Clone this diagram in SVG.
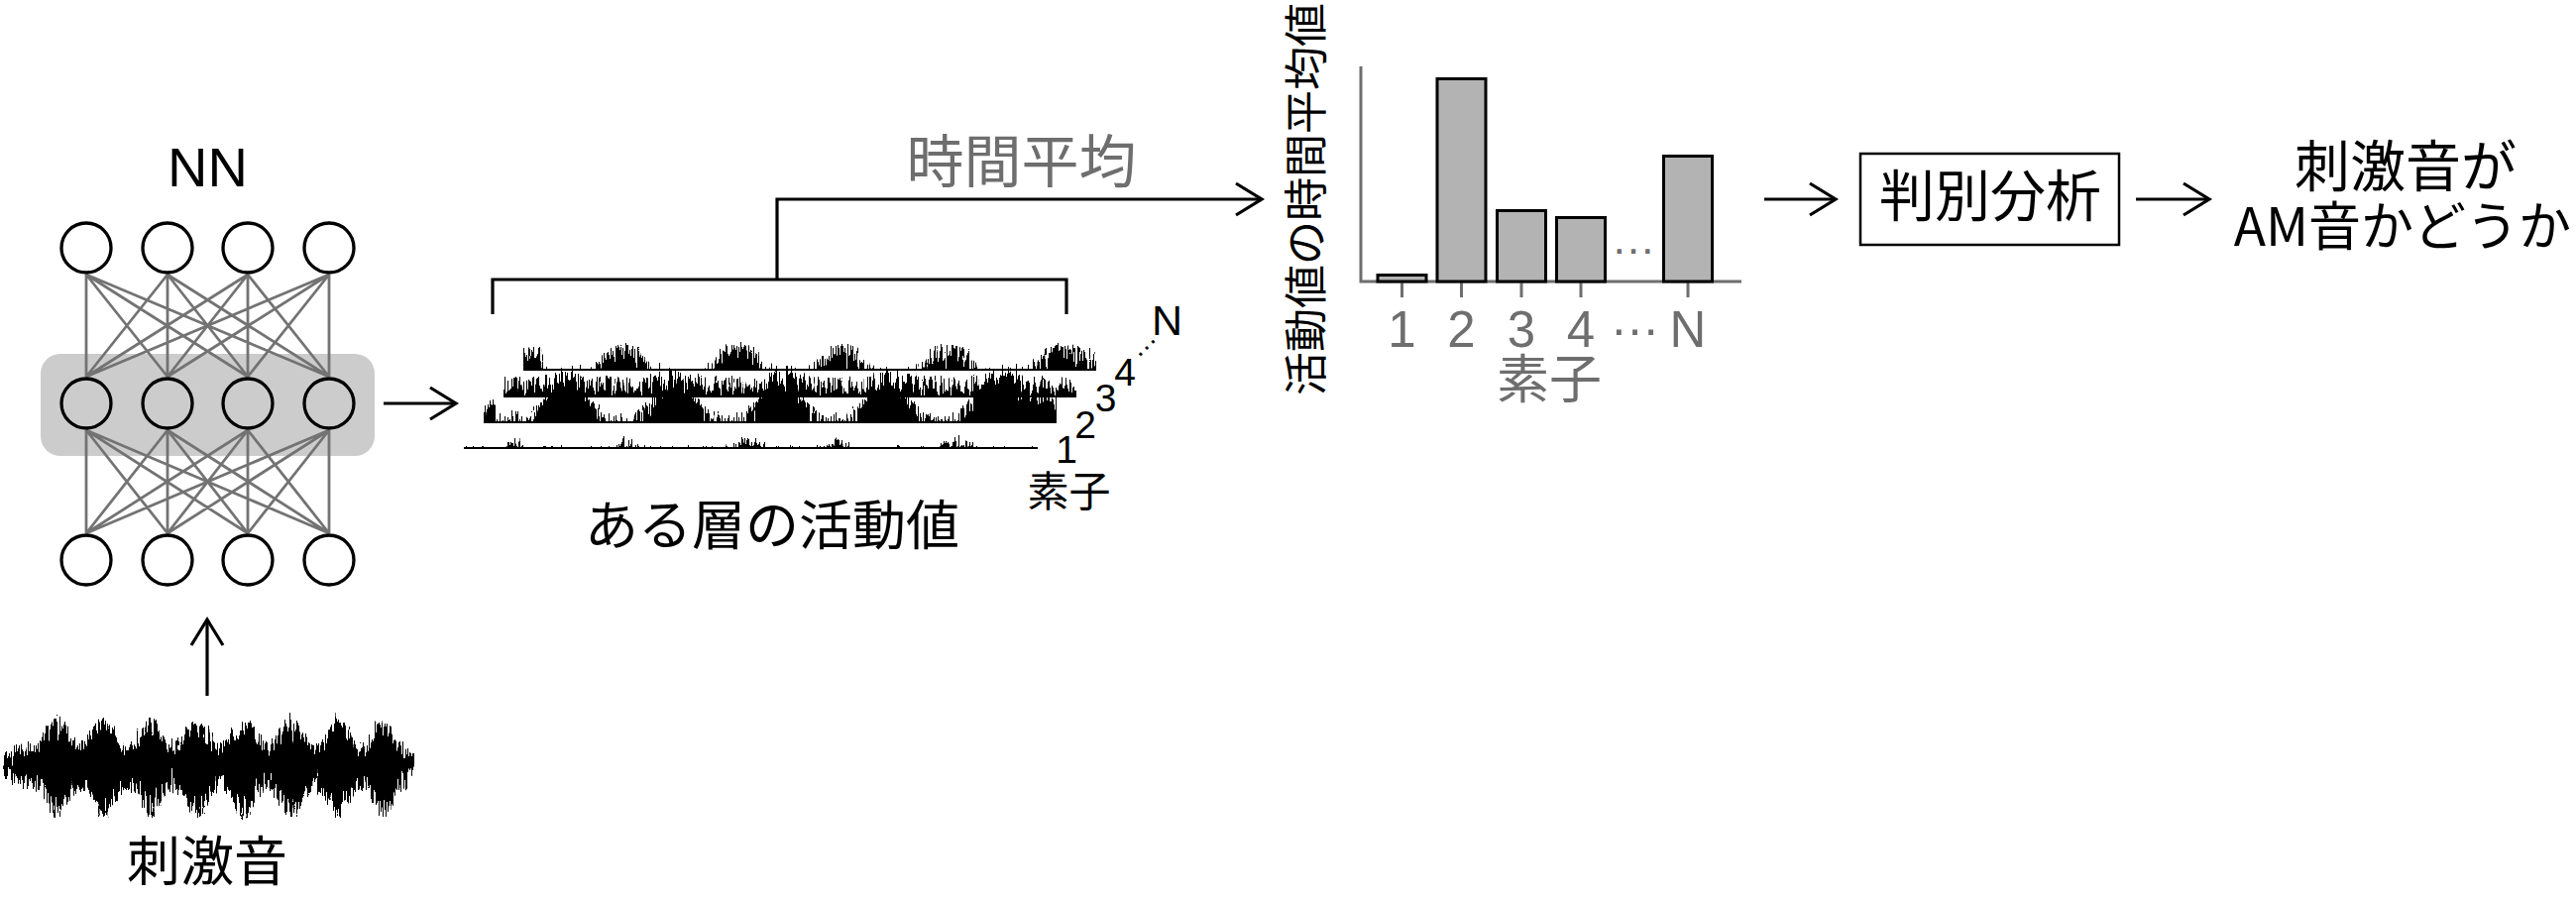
<svg xmlns="http://www.w3.org/2000/svg" width="2599" height="908" viewBox="0 0 2599 908">
<style>
.jp{font-family:'Noto Sans CJK JP','Noto Sans CJK SC',sans-serif}
.la{font-family:'Liberation Sans',Arial,sans-serif}
.k{fill:#000}
.g{fill:#6e6e6e}
.ln{stroke:#000;stroke-width:3.2;fill:none}
.nnl{stroke:#737373;stroke-width:2.8;fill:none}
.nd{stroke:#000;stroke-width:3.3;fill:#fff}
.ndm{stroke:#000;stroke-width:3.3;fill:none}
.bar{fill:#b3b3b3;stroke:#000;stroke-width:3}
.ax{stroke:#6e6e6e;stroke-width:3;fill:none}
.base{stroke:#000;stroke-width:2;fill:none}
</style>
<defs>
<marker id="ah" markerUnits="userSpaceOnUse" viewBox="-30 -20 36 40" refX="0" refY="0" markerWidth="36" markerHeight="40" orient="auto" overflow="visible">
<path d="M-26,-16 L0,0 L-26,16" fill="none" stroke="#000" stroke-width="3.2"/>
</marker>
<filter id="fU" x="-2%" y="-80%" width="104%" height="260%" color-interpolation-filters="sRGB">
<feTurbulence type="turbulence" baseFrequency="0.41 0.017" numOctaves="3" seed="4" result="t"/>
<feColorMatrix in="t" type="matrix" values="0 0 0 0 0.5  0 -1 0 0 0.86  0 0 0 0 0  0 0 0 0 1" result="m"/>
<feDisplacementMap in="SourceGraphic" in2="m" scale="40" xChannelSelector="R" yChannelSelector="G" result="d"/>
<feComponentTransfer in="d"><feFuncA type="linear" slope="2.2" intercept="-0.35"/></feComponentTransfer>
</filter>
<filter id="fD" x="-2%" y="-80%" width="104%" height="260%" color-interpolation-filters="sRGB">
<feTurbulence type="turbulence" baseFrequency="0.41 0.017" numOctaves="3" seed="9" result="t"/>
<feColorMatrix in="t" type="matrix" values="0 0 0 0 0.5  0 1 0 0 0.14  0 0 0 0 0  0 0 0 0 1" result="m"/>
<feDisplacementMap in="SourceGraphic" in2="m" scale="40" xChannelSelector="R" yChannelSelector="G" result="d"/>
<feComponentTransfer in="d"><feFuncA type="linear" slope="2.2" intercept="-0.35"/></feComponentTransfer>
</filter>
<filter id="fU1" x="-2%" y="-120%" width="104%" height="340%" color-interpolation-filters="sRGB">
<feTurbulence type="turbulence" baseFrequency="0.43 0.021" numOctaves="3" seed="2" result="t"/>
<feColorMatrix in="t" type="matrix" values="0 0 0 0 0.5  0 -1 0 0 0.86  0 0 0 0 0  0 0 0 0 1" result="m"/>
<feDisplacementMap in="SourceGraphic" in2="m" scale="22" xChannelSelector="R" yChannelSelector="G" result="d"/>
<feComponentTransfer in="d"><feFuncA type="linear" slope="2.2" intercept="-0.35"/></feComponentTransfer>
</filter>
<clipPath id="cTop"><rect x="0" y="680" width="430" height="93.5"/></clipPath>
<clipPath id="cBot"><rect x="0" y="772.5" width="430" height="100"/></clipPath>
<clipPath id="c4"><rect x="520" y="320" width="600" height="53"/></clipPath>
<clipPath id="c3"><rect x="500" y="340" width="600" height="60"/></clipPath>
<clipPath id="c2"><rect x="480" y="340" width="600" height="86"/></clipPath>
<clipPath id="c1"><rect x="460" y="400" width="600" height="52"/></clipPath>
</defs>

<g id="nn-network">
<rect id="layer-highlight" x="41" y="357" width="337" height="103" rx="20" fill="#cccccc"/>
<path class="nnl" d="M87,277L87,380M87,277L169,380M87,277L250,380M87,277L332,380M169,277L87,380M169,277L169,380M169,277L250,380M169,277L332,380M250,277L87,380M250,277L169,380M250,277L250,380M250,277L332,380M332,277L87,380M332,277L169,380M332,277L250,380M332,277L332,380"/>
<path class="nnl" d="M87,434L87,538M87,434L169,538M87,434L250,538M87,434L332,538M169,434L87,538M169,434L169,538M169,434L250,538M169,434L332,538M250,434L87,538M250,434L169,538M250,434L250,538M250,434L332,538M332,434L87,538M332,434L169,538M332,434L250,538M332,434L332,538"/>
<circle class="nd" cx="87" cy="250" r="25"/><circle class="nd" cx="169" cy="250" r="25"/><circle class="nd" cx="250" cy="250" r="25"/><circle class="nd" cx="332" cy="250" r="25"/>
<circle class="ndm" cx="87" cy="407" r="25"/><circle class="ndm" cx="169" cy="407" r="25"/><circle class="ndm" cx="250" cy="407" r="25"/><circle class="ndm" cx="332" cy="407" r="25"/>
<circle class="nd" cx="87" cy="565" r="25"/><circle class="nd" cx="169" cy="565" r="25"/><circle class="nd" cx="250" cy="565" r="25"/><circle class="nd" cx="332" cy="565" r="25"/>
<text class="la k" x="209.5" y="188" font-size="56" text-anchor="middle">NN</text>
</g>

<g id="stimulus">
<g clip-path="url(#cTop)"><path filter="url(#fU)" fill="#000" d="M3,773 C7,764 20,758 34.45,758 C42.3,758 50.15,732 58,732 S73.7,758 81.55,758 S97.25,732 105.1,732 S120.8,758 128.65,758 S144.35,732 152.2,732 S167.9,758 175.75,758 S191.45,732 199.3,732 S215,758 222.85,758 S238.55,732 246.4,732 S262.1,758 269.95,758 S285.65,732 293.5,732 S309.2,758 317.05,758 S332.75,732 340.6,732 S356.3,758 364.15,758 S379.85,732 387.7,732 S398,758 406,759 C412,760 415,768 418,773 L418,794 L3,794 Z"/></g>
<g clip-path="url(#cBot)"><path filter="url(#fD)" fill="#000" d="M3,773 C7,782 20,788 34.45,788 C42.3,788 50.15,814 58,814 S73.7,788 81.55,788 S97.25,814 105.1,814 S120.8,788 128.65,788 S144.35,814 152.2,814 S167.9,788 175.75,788 S191.45,814 199.3,814 S215,788 222.85,788 S238.55,814 246.4,814 S262.1,788 269.95,788 S285.65,814 293.5,814 S309.2,788 317.05,788 S332.75,814 340.6,814 S356.3,788 364.15,788 S379.85,814 387.7,814 S398,788 406,787 C412,786 415,778 418,773 L418,752 L3,752 Z"/></g>
<text class="jp k" x="209" y="889" font-size="54" text-anchor="middle">刺激音</text>
</g>

<g id="activity-traces">
<g clip-path="url(#c4)"><path filter="url(#fU)" fill="#000" d="M528,395 L528,360 L545,362 L550,380 L590,380 C606,380 610,357 630,357 C650,357 654,380 670,380 L705,380 C721,380 725,357 745,357 C765,357 769,380 785,380 L810,380 C826,380 830,357 850,357 C870,357 874,380 890,380 L918,380 C934,380 938,357 958,357 C978,357 982,380 998,380 L1030,380 C1046,380 1050,357 1070,357 C1085,357 1095,364 1106,367 L1106,395 Z"/></g>
<line class="base" x1="528" y1="373" x2="1106" y2="373"/>
<g clip-path="url(#c3)"><path filter="url(#fU)" fill="#000" d="M508,420 L508,390 L540,391 C552,382 580,382 592,391 L650,392 C662,382 700,382 712,391 L770,392 C780,382 815,382 825,391 L870,392 C880,382 920,382 930,391 L980,392 C990,382 1030,382 1040,391 L1086,389 L1086,420 Z"/></g>
<line class="base" x1="508" y1="400" x2="1086" y2="400"/>
<g clip-path="url(#c2)"><path filter="url(#fU)" fill="#000" d="M488,446 L488,412 L498,414 L503,427 L530,427 C544,427 558,383 572,382 C586,383 600,427 614,427 L638,427 C652,427 666,383 680,382 C694,383 708,427 722,427 L745,427 C759,427 773,383 787,382 C801,383 815,427 829,427 L853,427 C867,427 881,383 895,382 C909,383 923,427 937,427 L961,427 C975,427 989,383 1003,382 C1017,383 1030,400 1066,410 L1066,446 Z"/></g>
<line class="base" x1="488" y1="426" x2="1066" y2="426"/>
<g clip-path="url(#c1)"><path filter="url(#fU1)" fill="#000" d="M468,470 L468,456 L505,456 C510,456 512,446 518,446 C524,446 528,456 535,456 L618,456 C623,456 626,446 633,446 C640,446 643,456 648,456 L730,456 C738,456 742,446 756,446 C770,446 774,456 782,456 L830,456 C835,456 840,446 846,446 C852,446 857,456 862,456 L944,456 C950,456 956,446 967,446 C978,446 984,456 990,456 L1047,456 L1047,470 Z"/></g>
<line class="base" x1="468" y1="452" x2="1047" y2="452"/>
<text class="la k" font-size="39" text-anchor="middle" x="1076" y="467">1</text>
<text class="la k" font-size="39" text-anchor="middle" x="1095" y="442">2</text>
<text class="la k" font-size="39" text-anchor="middle" x="1115.5" y="415">3</text>
<text class="la k" font-size="39" text-anchor="middle" x="1135" y="389">4</text>
<text class="la k" font-size="28" text-anchor="middle" transform="translate(1157,351) rotate(-45)" y="1.5">…</text>
<text class="la k" font-size="43" text-anchor="middle" x="1177.5" y="338">N</text>
<text class="jp k" font-size="42" text-anchor="middle" x="1078.5" y="511">素子</text>
<text class="jp k" font-size="54" text-anchor="middle" x="779" y="550">ある層の活動値</text>
<path id="bracket" class="ln" d="M497,317 V282 H1076 V317"/>
</g>

<g id="time-average-label">
<text class="jp g" font-size="58" text-anchor="middle" x="1030.5" y="184">時間平均</text>
</g>

<g id="bar-chart">
<text class="jp k" font-size="44" text-anchor="middle" transform="translate(1334,201) rotate(-90)">活動値の時間平均値</text>
<path class="ax" d="M1373,67 V284 H1757"/>
<path class="ax" d="M1414.5,284V300M1474.5,284V300M1535,284V300M1595,284V300M1703,284V300"/>
<rect class="bar" x="1390" y="277.5" width="49" height="6.5"/>
<rect class="bar" x="1450" y="79.5" width="49" height="204.5"/>
<rect class="bar" x="1510.5" y="212.5" width="49" height="71.5"/>
<rect class="bar" x="1570.5" y="219.5" width="49" height="64.5"/>
<rect class="bar" x="1678.5" y="157.5" width="49" height="126.5"/>
<text class="la g" font-size="45" text-anchor="middle" x="1648" y="256">…</text>
<text class="la g" font-size="51" text-anchor="middle" x="1414.5" y="350">1</text>
<text class="la g" font-size="51" text-anchor="middle" x="1474.5" y="350">2</text>
<text class="la g" font-size="51" text-anchor="middle" x="1535" y="350">3</text>
<text class="la g" font-size="51" text-anchor="middle" x="1595" y="350">4</text>
<text class="la g" font-size="51" text-anchor="middle" x="1649.5" y="338">…</text>
<text class="la g" font-size="51" text-anchor="middle" x="1703" y="350">N</text>
<text class="jp g" font-size="53" text-anchor="middle" x="1563" y="402">素子</text>
</g>

<g id="discriminant-box">
<rect x="1877" y="155" width="261" height="92" fill="#fff" stroke="#000" stroke-width="2.5"/>
<text class="jp k" font-size="56" text-anchor="middle" x="2008" y="218">判別分析</text>
</g>

<g id="result">
<text class="jp k" font-size="56" text-anchor="middle" x="2427" y="188">刺激音が</text>
<text class="jp k" font-size="53" text-anchor="middle" x="2424" y="248">AM音かどうか</text>
</g>

<g id="connectors">
<line class="ln" x1="387" y1="407" x2="460" y2="407" marker-end="url(#ah)"/>
<line class="ln" x1="209" y1="702" x2="209" y2="625" marker-end="url(#ah)"/>
<path class="ln" d="M784,282 V201 H1273" marker-end="url(#ah)"/>
<line class="ln" x1="1780" y1="201" x2="1852" y2="201" marker-end="url(#ah)"/>
<line class="ln" x1="2155" y1="201" x2="2229" y2="201" marker-end="url(#ah)"/>
</g>
</svg>
